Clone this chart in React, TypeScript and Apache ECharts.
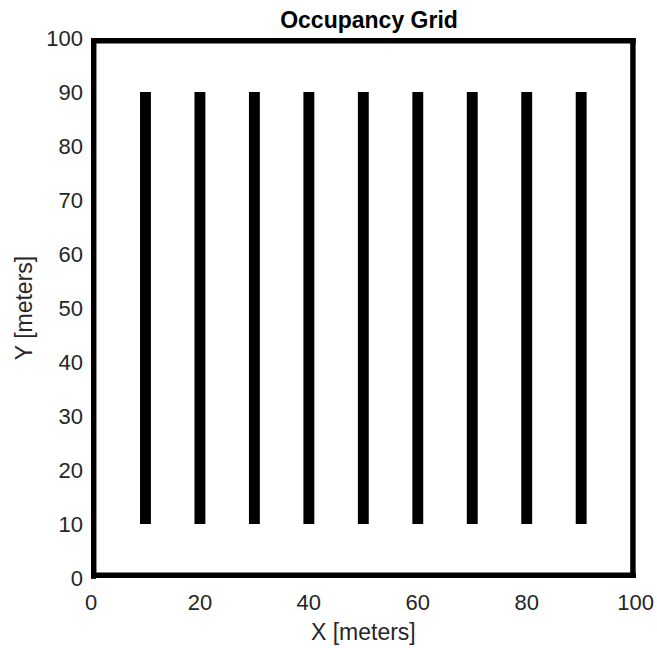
import React, { useEffect, useRef } from "react";
import * as echarts from "echarts";

// Occupied rectangles in map coordinates (meters): 9 walls + 4 boundary strips
const rectX0 = [9, 19, 29, 39, 49, 59, 69, 79, 89, 0, 0, 0, 99];
const rectX1 = [11, 21, 31, 41, 51, 61, 71, 81, 91, 100, 100, 1, 100];
const rectY0 = [10, 10, 10, 10, 10, 10, 10, 10, 10, 0, 99, 0, 0];
const rectY1 = [90, 90, 90, 90, 90, 90, 90, 90, 90, 1, 100, 100, 100];

const xTicks = [0, 20, 40, 60, 80, 100];
const yTicks = [0, 10, 20, 30, 40, 50, 60, 70, 80, 90, 100];

const FONT = "'Liberation Sans', Arial, Helvetica, sans-serif";

export default function App() {
  const ref = useRef<HTMLDivElement>(null);
  useEffect(() => {
    document.body.style.margin = "0";
    if (!ref.current) return;
    const chart = echarts.init(ref.current, undefined, { renderer: "svg" });
    const data = rectX0.map((x0, i) => [x0, rectX1[i], rectY0[i], rectY1[i]]);
    chart.setOption({
      animation: false,
      backgroundColor: "#ffffff",
      title: {
        text: "Occupancy Grid",
        left: 364,
        top: 3,
        textAlign: "center",
        textStyle: { fontFamily: FONT, fontSize: 23, fontWeight: "bold", color: "#000000" },
      },
      grid: { left: 91, top: 38, width: 547, height: 546, containLabel: false },
      xAxis: {
        type: "value",
        min: xTicks[0],
        max: xTicks[xTicks.length - 1],
        interval: 20,
        name: "X [meters]",
        nameLocation: "middle",
        nameGap: 42,
        nameTextStyle: { fontFamily: FONT, fontSize: 23, color: "#262626" },
        axisLine: { show: false },
        axisTick: { show: true, inside: true, length: 5, lineStyle: { color: "#262626" } },
        axisLabel: { fontFamily: FONT, fontSize: 22, color: "#262626", margin: 13 },
        splitLine: { show: false },
      },
      yAxis: {
        type: "value",
        min: yTicks[0],
        max: yTicks[yTicks.length - 1],
        interval: 10,
        name: "Y [meters]",
        nameLocation: "middle",
        nameGap: 53,
        nameTextStyle: { fontFamily: FONT, fontSize: 23, color: "#262626" },
        axisLine: { show: false },
        axisTick: { show: true, inside: true, length: 5, lineStyle: { color: "#262626" } },
        axisLabel: { fontFamily: FONT, fontSize: 22, color: "#262626", margin: 8 },
        splitLine: { show: false },
      },
      series: [
        {
          type: "custom",
          data,
          renderItem: (params: any, api: any) => {
            const p0 = api.coord([api.value(0), api.value(3)]);
            const p1 = api.coord([api.value(1), api.value(2)]);
            return {
              type: "rect",
              shape: { x: p0[0], y: p0[1], width: p1[0] - p0[0], height: p1[1] - p0[1] },
              style: { fill: "#000000" },
            };
          },
        },
      ],
    });
    return () => chart.dispose();
  }, []);
  return <div ref={ref} style={{ width: 657, height: 648 }} />;
}
